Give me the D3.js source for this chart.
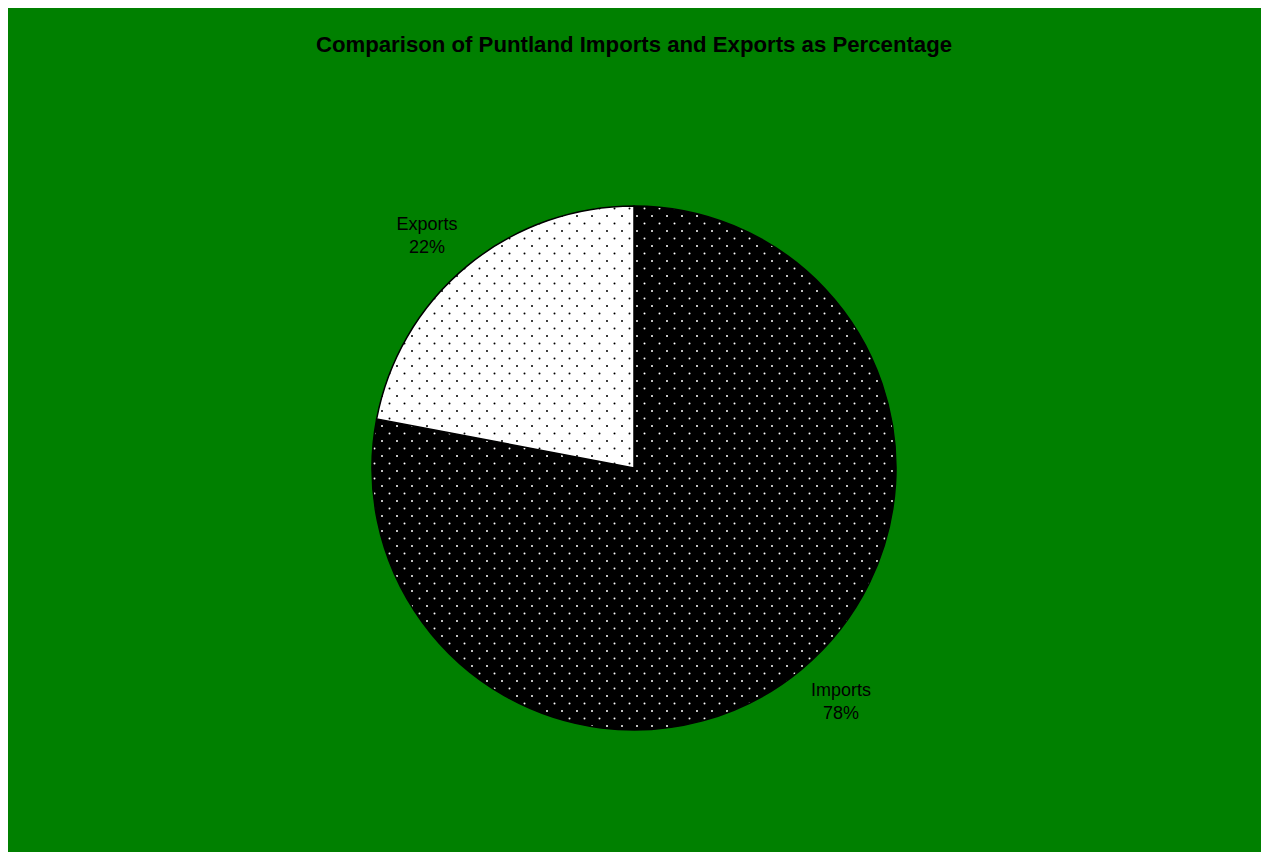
<!DOCTYPE html>
<html>
<head>
<meta charset="utf-8">
<script src="https://cdn.jsdelivr.net/npm/d3@7"></script>
<style>
  html, body { margin: 0; padding: 0; background: #fff; overflow: hidden; width: 1263px; height: 852px; }
  svg { position: absolute; left: 8px; top: 8px; display: block; font-family: "Liberation Sans", Arial, sans-serif; }
</style>
</head>
<body>
<svg id="pieChart"></svg>
<script>
const categories = ['Imports', 'Exports'];
const values = [78, 22];
const fills = ['url(#dotsDark)', 'url(#dotsLight)'];

const width = 1253;
const height = 844;
const cx = 626;
const cy = 460;
const radius = 262;

const svg = d3.select('svg#pieChart')
    .attr('width', width)
    .attr('height', height);

svg.append('rect')
    .attr('width', width)
    .attr('height', height)
    .attr('fill', '#008000');

// dot patterns
const defs = svg.append('defs');
const makePattern = (id, bg, dot) => {
    const p = defs.append('pattern')
        .attr('id', id)
        .attr('patternUnits', 'userSpaceOnUse')
        .attr('width', 15)
        .attr('height', 15);
    p.append('rect').attr('width', 15).attr('height', 15).attr('fill', bg);
    p.append('circle').attr('cx', 3).attr('cy', 3).attr('r', 1).attr('fill', dot);
    p.append('circle').attr('cx', 10.5).attr('cy', 10.5).attr('r', 1).attr('fill', dot);
};
makePattern('dotsDark', '#000', '#fff');
makePattern('dotsLight', '#fff', '#000');

svg.append('text')
    .attr('x', cx)
    .attr('y', 44)
    .attr('text-anchor', 'middle')
    .style('font-weight', 'bold')
    .style('font-size', '22.2px')
    .text('Comparison of Puntland Imports and Exports as Percentage');

const data = categories.map((c, i) => ({ name: c, value: values[i], fill: fills[i] }));

const pie = d3.pie()
    .sort(null)
    .value(d => d.value);

const arc = d3.arc()
    .innerRadius(0)
    .outerRadius(radius);

// labels sit a bit outside the rim, nudged slightly anticlockwise
const labelR = radius * 1.19;
const labelPos = d => {
    const a = (d.startAngle + d.endAngle) / 2 - 0.035;
    return [Math.sin(a) * labelR, -Math.cos(a) * labelR];
};

const g = svg.append('g')
    .attr('transform', `translate(${cx}, ${cy})`);

g.selectAll('path')
    .data(pie(data))
    .enter()
    .append('path')
    .attr('d', arc)
    .attr('fill', d => d.data.fill)
    .attr('stroke', '#000')
    .attr('stroke-width', 1.5);

const labels = g.selectAll('text.label')
    .data(pie(data))
    .enter()
    .append('text')
    .attr('class', 'label')
    .attr('transform', d => `translate(${labelPos(d)})`)
    .attr('text-anchor', 'middle')
    .style('font-size', '18px');

labels.append('tspan')
    .attr('x', 0)
    .attr('y', -5)
    .text(d => d.data.name);

labels.append('tspan')
    .attr('x', 0)
    .attr('y', 18)
    .text(d => `${d.data.value}%`);
</script>
</body>
</html>
